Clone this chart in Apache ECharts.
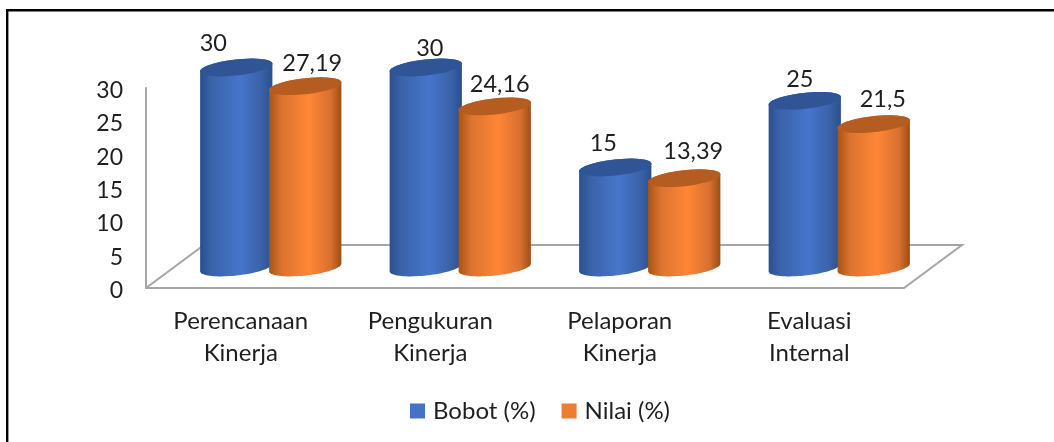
<!DOCTYPE html>
<html><head><meta charset="utf-8">
<style>html,body{margin:0;padding:0;background:#fff}#c{width:1054px;height:442px}</style>
<script src="https://cdn.jsdelivr.net/npm/echarts@6/dist/echarts.min.js"></script>
</head><body><div id="c"></div>
<script>
var categories = ['Perencanaan\nKinerja', 'Pengukuran\nKinerja', 'Pelaporan\nKinerja', 'Evaluasi\nInternal'];
var bobot = [30, 30, 15, 25];
var nilai = [27.19, 24.16, 13.39, 21.5];
var seriesNames = ['Bobot (%)', 'Nilai (%)'];
var bobotLabelShift = [[-23, 0], [4, 5], [-12, 0], [-5, 3]];
var nilaiLabelShift = [[7, 1], [5, 2], [9, -3], [9, -1]];

var FONT = 'Lato';
var TEXT = '#1f1f1f';
var GRAY = '#a6a6a6';
var DEPTH_X = 60, DEPTH_Y = 43;

function ellipsePts(cx, cy, a, b, th, t0, t1, n) {
  var pts = [], c = Math.cos(th), s = Math.sin(th);
  for (var i = 0; i <= n; i++) {
    var t = t0 + (t1 - t0) * i / n, u = a * Math.cos(t), v = b * Math.sin(t);
    pts.push([cx + u * c - v * s, cy + u * s + v * c]);
  }
  return pts;
}
function grad(stops) {
  return { type: 'linear', x: 0, y: 0, x2: 1, y2: 0,
    colorStops: stops.map(function (p) { return { offset: p[0], color: p[1] }; }) };
}
function cylinder(offsetRatio, bodyStops, capStops, shifts) {
  return function (params, api) {
    var cat = api.value(0), val = api.value(1);
    var band = api.size([1, 0])[0];
    var base = api.coord([cat, 0]), top = api.coord([cat, val]);
    var cx = base[0] + DEPTH_X / 2 + band * offsetRatio;
    var by = base[1] - 20.5, ty = top[1] - 20.5;
    var a = band * 0.192, b = 8, th = -0.11;
    var t0 = Math.atan2(b * Math.sin(th), a * Math.cos(th));
    var upper = ellipsePts(cx, ty, a, b, th, Math.PI + t0 + 0, 2 * Math.PI + t0, 40);
    var lower = ellipsePts(cx, by, a, b, th, t0, Math.PI + t0, 40);
    var shift = shifts[params.dataIndexInside];
    return { type: 'group', children: [
      { type: 'polygon', shape: { points: upper.concat(lower) }, style: { fill: grad(bodyStops) } },
      { type: 'polygon', shape: { points: ellipsePts(cx, ty, a, b, th, 0, 2 * Math.PI, 60) }, style: { fill: grad(capStops) } },
      { type: 'text', style: { text: String(val).replace('.', ','), x: cx + shift[0], y: ty - 24 + shift[1],
        align: 'center', verticalAlign: 'middle', font: '23.5px ' + FONT, fill: TEXT } }
    ] };
  };
}
function floor(params, api) {
  var g = params.coordSys, L = g.x, R = g.x + g.width, Y = g.y + g.height;
  var ls = { stroke: GRAY, lineWidth: 2, fill: 'none' };
  return { type: 'polyline', shape: { points: [[L, Y], [L + 58, Y - DEPTH_Y], [R + 58, Y - DEPTH_Y], [R, Y]] }, style: ls };
}
function rows(vals) { return vals.map(function (v, i) { return [i, v]; }); }

var chart = echarts.init(document.getElementById('c'), null, { renderer: 'canvas' });
chart.setOption({
  animation: false,
  backgroundColor: '#fff',
  graphic: [
    { type: 'polyline', shape: { points: [[7.2, 442], [7.2, 10.2], [1054, 10.2]] }, style: { stroke: '#000', lineWidth: 2.4, fill: 'none' }, silent: true }
  ],
  grid: { left: 146, top: 88, width: 758, height: 200 },
  legend: {
    data: seriesNames, left: 405, top: 394, itemWidth: 15, itemHeight: 15, itemGap: 26, icon: 'rect',
    textStyle: { fontFamily: FONT, fontSize: 24, color: TEXT, padding: [0, 0, 0, 3] }
  },
  xAxis: {
    type: 'category', data: categories,
    axisLine: { lineStyle: { color: GRAY, width: 2 } }, axisTick: { show: false },
    axisLabel: { fontFamily: FONT, fontSize: 24, color: TEXT, lineHeight: 32, margin: 17, interval: 0 }
  },
  yAxis: {
    type: 'value', min: 0, max: 30, interval: 5,
    splitLine: { show: false }, axisTick: { show: false },
    axisLine: { show: true, lineStyle: { color: GRAY, width: 2 } },
    axisLabel: { margin: 23, formatter: '{t|{value}}',
      rich: { t: { fontFamily: FONT, fontSize: 23, color: TEXT, padding: [5, 0, 0, 0] } } }
  },
  series: [
    { type: 'custom', name: 'floor', silent: true, data: [[0, 0]], renderItem: floor, encode: { x: 0, y: 1 }, z: 1 },
    { type: 'custom', name: seriesNames[0], data: rows(bobot), encode: { x: 0, y: 1 }, z: 2,
      itemStyle: { color: '#4472c4' },
      renderItem: cylinder(-0.182,
        [[0, '#2b4f8e'], [0.15, '#3a62a8'], [0.55, '#4675cc'], [0.85, '#3a62a8'], [1, '#2b4f8e']],
        [[0, '#2f5597'], [1, '#2f5597']], bobotLabelShift) },
    { type: 'custom', name: seriesNames[1], data: rows(nilai), encode: { x: 0, y: 1 }, z: 3,
      itemStyle: { color: '#ed7d31' },
      renderItem: cylinder(0.182,
        [[0, '#a85414'], [0.18, '#dc7430'], [0.55, '#ff8635'], [0.85, '#d87030'], [1, '#9c4e14']],
        [[0, '#b55d20'], [1, '#b55d20']], nilaiLabelShift) }
  ]
});
</script></body></html>
